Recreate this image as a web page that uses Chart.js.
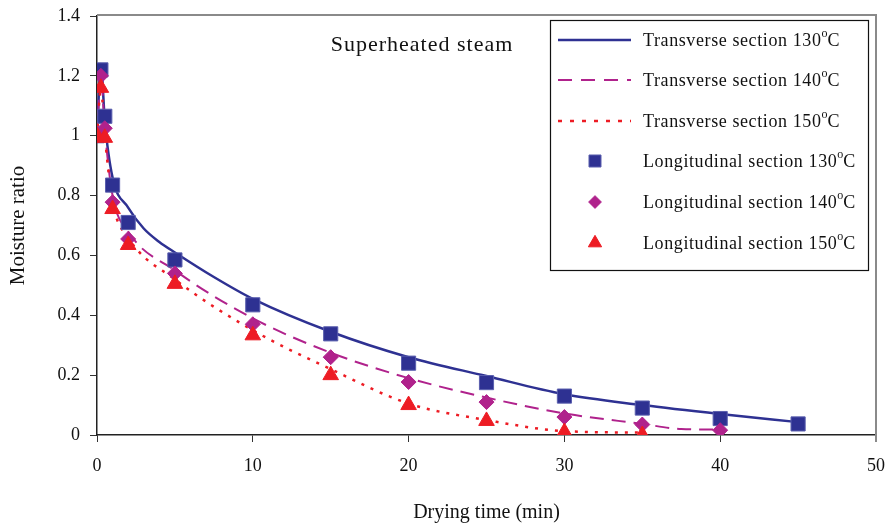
<!DOCTYPE html>
<html>
<head>
<meta charset="utf-8">
<script src="https://cdn.jsdelivr.net/npm/chart.js@4/dist/chart.umd.min.js"></script>
<style>
  html, body { margin: 0; padding: 0; background: #fff; }
  #wrap { width: 888px; height: 529px; position: relative; }
</style>
</head>
<body>
<div id="wrap"><canvas id="chart"></canvas></div>
<script>
// model curves (transverse section)
const lineX130 = [0, 0.25, 0.5, 1, 2, 3, 4, 5, 7.5, 10, 15, 20, 25, 30, 35, 40, 45];
const lineY130 = [1.0, 1.24, 1.05, 0.86, 0.76, 0.69, 0.645, 0.61, 0.528, 0.455, 0.345, 0.26, 0.197, 0.136, 0.1, 0.07, 0.043];
const lineX140 = [0, 0.25, 0.5, 1, 2, 5, 10, 15, 20, 25, 30, 35, 37.5, 40];
const lineY140 = [1.0, 1.2, 1.02, 0.8, 0.68, 0.55, 0.39, 0.275, 0.19, 0.125, 0.072, 0.037, 0.02, 0.018];
const lineX150 = [0, 0.25, 0.5, 1, 2, 5, 10, 15, 20, 25, 30, 35];
const lineY150 = [1.0, 1.16, 1.0, 0.78, 0.66, 0.52, 0.35, 0.22, 0.105, 0.05, 0.013, 0.008];

// measured points (longitudinal section)
const ptX130 = [0, 0.25, 0.5, 1, 2, 5, 10, 15, 20, 25, 30, 35, 40, 45];
const ptY130 = [1.0, 1.22, 1.065, 0.835, 0.71, 0.585, 0.435, 0.338, 0.24, 0.175, 0.13, 0.09, 0.055, 0.037];
const ptX140 = [0, 0.25, 0.5, 1, 2, 5, 10, 15, 20, 25, 30, 35, 40];
const ptY140 = [1.0, 1.2, 1.025, 0.778, 0.655, 0.54, 0.37, 0.26, 0.177, 0.11, 0.06, 0.035, 0.016];
const ptX150 = [0, 0.25, 0.5, 1, 2, 5, 10, 15, 20, 25, 30, 35];
const ptY150 = [1.0, 1.16, 0.993, 0.755, 0.635, 0.505, 0.333, 0.2, 0.1, 0.047, 0.01, 0.0];

const xTicks = [0, 10, 20, 30, 40, 50];
const yTicks = [0, 0.2, 0.4, 0.6, 0.8, 1.0, 1.2, 1.4];

const navy = '#2e3192';
const purple = '#b0228c';
const red = '#ed1c24';
const serif = '"Liberation Serif", "Times New Roman", serif';

function pts(xs, ys) {
    return xs.map((x, i) => ({ x: x, y: ys[i] }));
}

// 枠線・タイトル・凡例を描く
const decor = {
    id: 'decor',
    afterDraw(chart) {
        const ctx = chart.ctx;
        const a = chart.chartArea;
        ctx.save();

        // gray frame on top and right
        ctx.strokeStyle = '#8a8a8a';
        ctx.lineWidth = 2;
        ctx.beginPath();
        ctx.moveTo(a.left, a.top - 1);
        ctx.lineTo(a.right, a.top - 1);
        ctx.lineTo(a.right, a.bottom + 7);
        ctx.stroke();

        // inner title
        ctx.fillStyle = '#111';
        ctx.font = '22px ' + serif;
        ctx.letterSpacing = '1px';
        ctx.textAlign = 'center';
        ctx.textBaseline = 'middle';
        ctx.fillText('Superheated steam', 422, 45);

        // legend box
        const bx = 550, by = 20, bw = 318, bh = 250;
        ctx.fillStyle = '#fff';
        ctx.fillRect(bx, by, bw, bh);
        ctx.strokeStyle = '#111';
        ctx.lineWidth = 1.2;
        ctx.strokeRect(bx + 0.5, by + 0.5, bw, bh);

        const rows = [40, 80, 121, 161, 202, 243];
        chart.data.datasets.forEach((ds, i) => {
            const y = rows[i];
            if (ds.showLine) {
                ctx.strokeStyle = ds.borderColor;
                ctx.lineWidth = ds.borderWidth;
                ctx.setLineDash(ds.legendDash || []);
                ctx.beginPath();
                ctx.moveTo(558, y);
                ctx.lineTo(631, y);
                ctx.stroke();
                ctx.setLineDash([]);
            } else {
                ctx.fillStyle = ds.backgroundColor;
                ctx.strokeStyle = ds.borderColor;
                ctx.lineWidth = 1;
                Chart.helpers.drawPoint(ctx, {
                    pointStyle: ds.pointStyle,
                    radius: ds.pointRadius * 0.85,
                    borderWidth: 1
                }, 595, y);
            }
            // label with superscript "o"
            const parts = ds.label.split('°');
            ctx.fillStyle = '#111';
            ctx.textAlign = 'left';
            ctx.textBaseline = 'alphabetic';
            ctx.letterSpacing = '0.6px';
            ctx.font = '18px ' + serif;
            let x = 643;
            ctx.fillText(parts[0], x, y + 6);
            x += ctx.measureText(parts[0]).width;
            ctx.letterSpacing = '0px';
            ctx.font = '12px ' + serif;
            ctx.fillText('o', x, y - 3);
            x += ctx.measureText('o').width;
            ctx.font = '18px ' + serif;
            ctx.fillText(parts[1], x, y + 6);
        });
        ctx.restore();
    }
};

const ctx = document.getElementById('chart').getContext('2d');
new Chart(ctx, {
    type: 'scatter',
    data: {
        datasets: [
            {
                label: 'Transverse section 130°C',
                data: pts(lineX130, lineY130),
                showLine: true,
                borderColor: navy,
                backgroundColor: navy,
                borderWidth: 2.5,
                pointRadius: 0,
                cubicInterpolationMode: 'monotone',
                order: 6
            },
            {
                label: 'Transverse section 140°C',
                data: pts(lineX140, lineY140),
                showLine: true,
                borderColor: purple,
                backgroundColor: purple,
                borderWidth: 2,
                borderDash: [14, 8],
                legendDash: [14, 9],
                pointRadius: 0,
                cubicInterpolationMode: 'monotone',
                order: 5
            },
            {
                label: 'Transverse section 150°C',
                data: pts(lineX150, lineY150),
                showLine: true,
                borderColor: red,
                backgroundColor: red,
                borderWidth: 2.5,
                borderDash: [3, 7],
                legendDash: [4, 8],
                pointRadius: 0,
                cubicInterpolationMode: 'monotone',
                order: 4
            },
            {
                label: 'Longitudinal section 130°C',
                data: pts(ptX130, ptY130),
                showLine: false,
                pointStyle: 'rect',
                pointRadius: 10,
                pointHoverRadius: 10,
                backgroundColor: navy,
                borderColor: '#5a5fae',
                pointBorderWidth: 1,
                order: 3
            },
            {
                label: 'Longitudinal section 140°C',
                data: pts(ptX140, ptY140),
                showLine: false,
                pointStyle: 'rectRot',
                pointRadius: 7.5,
                pointHoverRadius: 7.5,
                backgroundColor: purple,
                borderColor: purple,
                pointBorderWidth: 1,
                order: 2
            },
            {
                label: 'Longitudinal section 150°C',
                data: pts(ptX150, ptY150),
                showLine: false,
                pointStyle: 'triangle',
                pointRadius: 9,
                pointHoverRadius: 9,
                backgroundColor: red,
                borderColor: red,
                pointBorderWidth: 1,
                order: 1
            }
        ]
    },
    options: {
        responsive: true,
        maintainAspectRatio: false,
        animation: false,
        layout: { padding: { top: 16, right: 12, left: 0, bottom: 0 } },
        plugins: {
            legend: { display: false },
            tooltip: { enabled: false }
        },
        scales: {
            x: {
                type: 'linear',
                min: 0,
                max: 50,
                afterFit: s => { s.height = 94; s.paddingRight = 0; s.paddingLeft = 0; },
                afterBuildTicks: s => { s.ticks = xTicks.map(v => ({ value: v })); },
                ticks: {
                    color: '#111',
                    font: { family: serif, size: 18 },
                    padding: 13
                },
                grid: { drawOnChartArea: false, drawTicks: true, tickLength: 7, color: '#333' },
                border: { display: true, color: '#222', width: 1.5 },
                title: {
                    display: true,
                    text: 'Drying time (min)',
                    color: '#111',
                    font: { family: serif, size: 20 },
                    padding: { top: 0, bottom: 4 }
                }
            },
            y: {
                type: 'linear',
                min: 0,
                max: 1.4,
                afterFit: s => { s.width = 97; s.paddingTop = 0; s.paddingBottom = 0; },
                afterBuildTicks: s => { s.ticks = yTicks.map(v => ({ value: v })); },
                ticks: {
                    color: '#111',
                    font: { family: serif, size: 18 },
                    padding: 10,
                    callback: v => String(Math.round(v * 10) / 10)
                },
                grid: { drawOnChartArea: false, drawTicks: true, tickLength: 7, color: '#333' },
                border: { display: true, color: '#222', width: 1.5 },
                title: {
                    display: true,
                    text: 'Moisture ratio',
                    color: '#111',
                    font: { family: serif, size: 21 },
                    padding: { top: 6, bottom: 0 }
                }
            }
        }
    },
    plugins: [decor]
});
</script>
</body>
</html>
